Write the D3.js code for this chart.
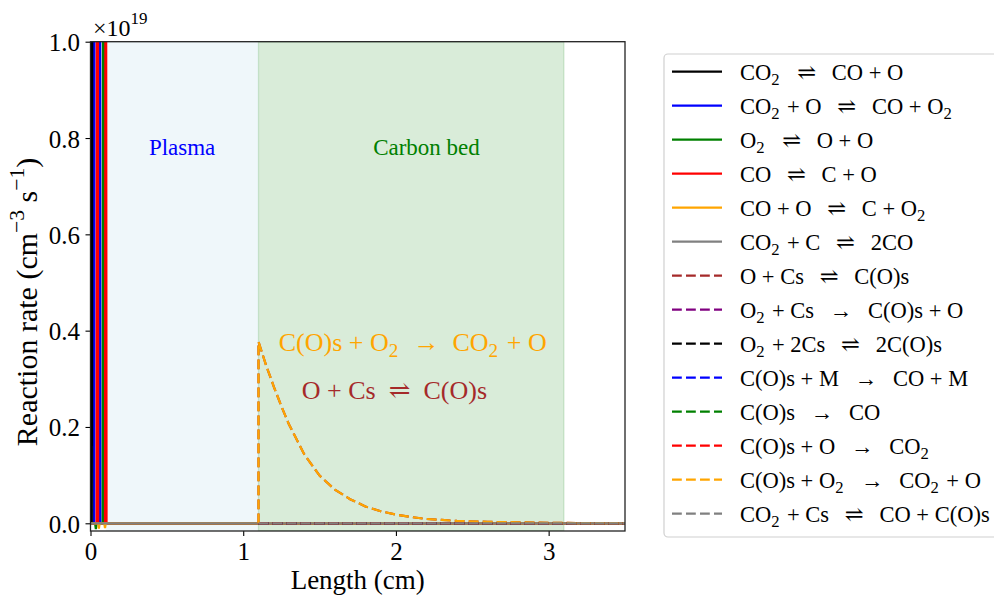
<!DOCTYPE html>
<html>
<head>
<meta charset="utf-8">
<script src="https://cdn.jsdelivr.net/npm/d3@7"></script>
<style>
  body { margin: 0; background: #fff; }
  svg { display: block; font-family: 'Liberation Serif', 'DejaVu Serif', serif; }
  text { white-space: pre; }
</style>
</head>
<body>
<svg id="chart" width="994" height="595"></svg>
<script>
// rates in units of 1e19 cm^-3 s^-1
const plasmaX = [0, 0.005, 0.01, 0.015, 0.02, 0.025, 0.03, 0.035, 0.04, 0.045, 0.05, 0.055, 0.06,
  0.065, 0.07, 0.075, 0.08, 0.085, 0.09, 0.095, 0.1, 0.105, 0.11, 0.115, 0.12, 0.5, 1.1, 3.5];
const rCO2Diss   = [0, 0, 4.2, 2.6, 0, 0, 0, 0, 0, 0, 0, 0, 0, 0, 0, 0, 0, 0, 0, 0, 0, 0, 0, 0, 0, 0, 0, 0];
const rCO2O      = [0, 0, 0, 0, 0, 0, 6.5, 7.8, 5.1, 0, 0, 0, 3.4, 0, 0, 0, 0, 0, 0, 0, 0, 0, 0, 0, 0, 0, 0, 0];
const rO2Diss    = [0, 0, 0, 0, 0, 0, 0, -0.012, 0, 0, 0, 0, 0, 0, 0, 0, 0, 3.1, 0, 0, 0, 0, 0, 0, 0, 0, 0, 0];
const rCODiss    = [0, 0, 0, 0, 0, 0, 0, 0, 0, 4.6, 0, 0, 0, 0, 0, 0, 0, 0, 0, 0, 2.2, 0, 0, 0, 0, 0, 0, 0];
const rCOO       = [0, 0, 0, 0, 0, 0, 0, 0, 0, 0, 0, -0.011, 0, 0, 0, 0, 0, 0, 0, -0.01, 0, 0, 0, 0, 0, 0, 0, 0];
const rBoudouard = [0, 0, 0, 0, 0, 0, 0, 0, 0, 0, 0, 0, 0, 0, 0, 0, 0, 0, 0, 0, 0, 0, 0, 0, 0, 0, 0, 0];

const bedX = [1.1, 1.1, 1.15, 1.2, 1.25, 1.3, 1.4, 1.5, 1.6, 1.7, 1.8, 1.9, 2.0, 2.1, 2.2, 2.3, 2.4,
  2.6, 2.8, 3.0, 3.2, 3.5];
const rAdsorption = [0, 0.377, 0.328, 0.284, 0.243, 0.205, 0.143, 0.099, 0.070, 0.050, 0.035, 0.025,
  0.018, 0.013, 0.009, 0.007, 0.005, 0.003, 0.002, 0.001, 0.0005, 0.0002];
const rOxidation = [0, 0.377, 0.328, 0.284, 0.243, 0.205, 0.143, 0.099, 0.070, 0.050, 0.035, 0.025,
  0.018, 0.013, 0.009, 0.007, 0.005, 0.003, 0.002, 0.001, 0.0005, 0.0002];
const rZeroBed = [0, 0, 0, 0, 0, 0, 0, 0, 0, 0, 0, 0, 0, 0, 0, 0, 0, 0, 0, 0, 0, 0];

const solidLabels = ['CO_2 ⇌ CO + O', 'CO_2 + O ⇌ CO + O_2', 'O_2 ⇌ O + O', 'CO ⇌ C + O',
  'CO + O ⇌ C + O_2', 'CO_2 + C ⇌ 2CO'];
const solidColors = ['#000000', '#0000ff', '#008000', '#ff0000', '#ffa500', '#808080'];
const solidValues = [rCO2Diss, rCO2O, rO2Diss, rCODiss, rCOO, rBoudouard];

const dashedLabels = ['O + Cs ⇌ C(O)s', 'O_2 + Cs → C(O)s + O', 'O_2 + 2Cs ⇌ 2C(O)s',
  'C(O)s + M → CO + M', 'C(O)s → CO', 'C(O)s + O → CO_2', 'C(O)s + O_2 → CO_2 + O',
  'CO_2 + Cs ⇌ CO + C(O)s'];
const dashedColors = ['#a52a2a', '#800080', '#000000', '#0000ff', '#008000', '#ff0000', '#ffa500', '#808080'];
const dashedValues = [rAdsorption, rZeroBed, rZeroBed, rZeroBed, rZeroBed, rZeroBed, rOxidation, rZeroBed];

const xTicks = [0, 1, 2, 3];
const yTicks = [0, 0.2, 0.4, 0.6, 0.8, 1.0];
const plasmaSpan = [0.1, 1.1];
const bedSpan = [1.1, 3.1];

const margin = { left: 90.5, right: 625, top: 41.7, bottom: 531 };
const x = d3.scaleLinear().domain([0, 3.5]).range([margin.left, margin.right]);
const y = d3.scaleLinear().domain([-0.016, 1.0]).range([margin.bottom, margin.top]);

const svg = d3.select('#chart');

function richText(sel, label, size, supShift = 0.5) {
  const parts = label.split(/(_\w|\^\{[^}]*\})/).filter((p) => p !== '');
  let shift = 0;
  let padNext = 0;
  sel.attr('font-size', size);
  parts.forEach((p) => {
    let txt = p, s = 0, fs = size;
    if (p[0] === '_') { txt = p.slice(1); s = size * 0.22; fs = size * 0.74; }
    else if (p[0] === '^') { txt = p.slice(2, -1); s = -size * supShift; fs = size * 0.72; }
    sel.append('tspan')
      .attr('dx', padNext || null)
      .attr('dy', s - shift)
      .attr('font-size', fs)
      .text(txt);
    padNext = p[0] === '_' ? size * 0.08 : 0;
    shift = s;
  });
  return sel;
}
const spaced = (s) => s.replace(' ⇌ ', '  ⇌  ').replace(' → ', '  →  ');

svg.append('clipPath').attr('id', 'plot-clip')
  .append('rect')
  .attr('x', margin.left).attr('y', margin.top)
  .attr('width', margin.right - margin.left).attr('height', margin.bottom - margin.top);

const plot = svg.append('g').attr('clip-path', 'url(#plot-clip)');

plot.append('rect')
  .attr('x', x(plasmaSpan[0])).attr('y', margin.top)
  .attr('width', x(plasmaSpan[1]) - x(plasmaSpan[0])).attr('height', margin.bottom - margin.top)
  .attr('fill', 'lightblue').attr('fill-opacity', 0.2);

plot.append('rect')
  .attr('x', x(bedSpan[0])).attr('y', margin.top)
  .attr('width', x(bedSpan[1]) - x(bedSpan[0])).attr('height', margin.bottom - margin.top)
  .attr('fill', 'green').attr('fill-opacity', 0.15)
  .attr('stroke', 'green').attr('stroke-opacity', 0.15).attr('stroke-width', 1.3);

const line = d3.line().x((d) => x(d[0])).y((d) => y(d[1]));

solidValues.forEach((vals, i) => {
  plot.append('path')
    .datum(plasmaX.map((px, j) => [px, vals[j]]))
    .attr('d', line)
    .attr('fill', 'none')
    .attr('stroke', solidColors[i])
    .attr('stroke-width', 2.2);
});

dashedValues.forEach((vals, i) => {
  plot.append('path')
    .datum(bedX.map((bx, j) => [bx, vals[j]]))
    .attr('d', line)
    .attr('fill', 'none')
    .attr('stroke', dashedColors[i])
    .attr('stroke-width', 2.2)
    .attr('stroke-dasharray', '9.8,4.2');
});

// region and reaction annotations
svg.append('text').attr('x', x(0.6)).attr('y', y(0.765))
  .attr('text-anchor', 'middle').attr('font-size', 23).attr('fill', 'blue').text('Plasma');
svg.append('text').attr('x', x(2.2)).attr('y', y(0.765))
  .attr('text-anchor', 'middle').attr('font-size', 23).attr('fill', 'green').text('Carbon bed');
richText(svg.append('text').attr('x', x(2.11)).attr('y', y(0.358))
  .attr('text-anchor', 'middle').attr('fill', 'orange'), spaced('C(O)s + O_2 → CO_2 + O'), 26);
richText(svg.append('text').attr('x', x(1.99)).attr('y', y(0.258))
  .attr('text-anchor', 'middle').attr('fill', 'brown'), spaced('O + Cs ⇌ C(O)s'), 26);

// axes
const xAxis = svg.append('g')
  .attr('transform', `translate(0,${margin.bottom})`)
  .call(d3.axisBottom(x).tickValues(xTicks).tickFormat(d3.format('d')).tickSize(5).tickPadding(6));
const yAxis = svg.append('g')
  .attr('transform', `translate(${margin.left},0)`)
  .call(d3.axisLeft(y).tickValues(yTicks).tickFormat(d3.format('.1f')).tickSize(5).tickPadding(5.5));

[xAxis, yAxis].forEach((ax) => {
  ax.select('.domain').remove();
  ax.selectAll('line').attr('stroke', '#000').attr('stroke-width', 1.1);
  ax.selectAll('text').attr('font-size', 25).attr('font-family', 'Liberation Serif').attr('fill', '#000');
});
yAxis.selectAll('text').attr('dy', '0.36em');

svg.append('rect')
  .attr('x', margin.left).attr('y', margin.top)
  .attr('width', margin.right - margin.left).attr('height', margin.bottom - margin.top)
  .attr('fill', 'none').attr('stroke', '#222').attr('stroke-width', 1.3);

// offset text of the y axis
const offsetText = svg.append('text')
  .attr('x', 93).attr('y', 36)
  .style('font-size', '24px');
offsetText.append('tspan').style('font-size', '24px').text('×10');
offsetText.append('tspan').attr('dy', -12).style('font-size', '17px').text('19');

svg.append('text')
  .attr('x', (margin.left + margin.right) / 2).attr('y', 589)
  .attr('text-anchor', 'middle').attr('font-size', 27).text('Length (cm)');

richText(svg.append('text')
  .attr('transform', 'translate(37,302) rotate(-90)')
  .attr('text-anchor', 'middle'), 'Reaction rate (cm^{−3} s^{−1})', 30, 0.45);

// legend
const legend = svg.append('g');
legend.append('rect')
  .attr('x', 664).attr('y', 54).attr('width', 345).attr('height', 483).attr('rx', 4)
  .attr('fill', '#fff').attr('fill-opacity', 0.8).attr('stroke', '#d0d0d0').attr('stroke-width', 1.2);

const entries = solidLabels.map((l, i) => ({ label: l, color: solidColors[i], dashed: false }))
  .concat(dashedLabels.map((l, i) => ({ label: l, color: dashedColors[i], dashed: true })));

const legendLabel = (s) => s.replace(' ⇌ ', '  \u2009⇌\u2009  ').replace(' → ', '  \u2009→\u2009  ');

entries.forEach((e, i) => {
  const ly = 71.7 + i * 34;
  legend.append('line')
    .attr('x1', 672).attr('x2', 722).attr('y1', ly).attr('y2', ly)
    .attr('stroke', e.color).attr('stroke-width', 2.2)
    .attr('stroke-dasharray', e.dashed ? '9.8,4.2' : null);
  richText(legend.append('text').attr('x', 740).attr('y', ly + 8.3), legendLabel(e.label), 22.5);
});
</script>
</body>
</html>
